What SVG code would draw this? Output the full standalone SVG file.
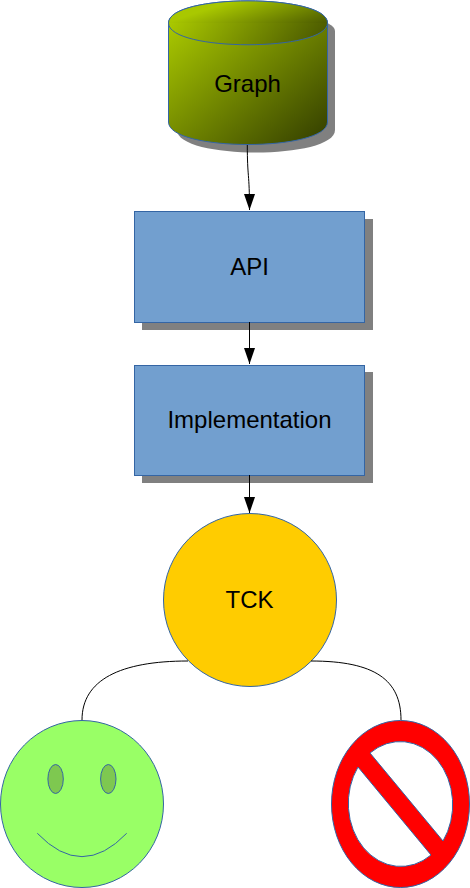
<svg xmlns="http://www.w3.org/2000/svg" width="470" height="888" viewBox="0 0 470 888">
<style>
.o{stroke:#3465a4;stroke-width:1}
.s{fill:#808080}
.b{fill:#729fcf}
.c{fill:none;stroke:#000;stroke-width:1}
.t{font-family:"Liberation Sans",Arial,sans-serif;font-size:24px;fill:#000;text-anchor:middle}
</style>
<defs>
<linearGradient id="g1" gradientUnits="userSpaceOnUse" x1="169" y1="25" x2="293" y2="167">
<stop offset="0" stop-color="#a9c800"/><stop offset="1" stop-color="#354000"/>
</linearGradient>
<linearGradient id="g2" gradientUnits="userSpaceOnUse" x1="169" y1="22" x2="189" y2="82">
<stop offset="0" stop-color="#a9c800"/><stop offset="1" stop-color="#354000"/>
</linearGradient>
<linearGradient id="g3" gradientUnits="userSpaceOnUse" x1="169" y1="25" x2="291" y2="123">
<stop offset="0" stop-color="#a9c800"/><stop offset="1" stop-color="#354000"/>
</linearGradient>
<marker id="a" markerUnits="userSpaceOnUse" markerWidth="16" markerHeight="11" refX="16" refY="5.500" orient="auto" viewBox="0 0 16 11">
<path d="M0 0L16 5.500L0 11Z" fill="#000"/>
</marker>
</defs>
<g id="graph">
<path class="s" d="M177 31C177 8 335 8 335 31V130C335 160 177 160 177 130Z"/>
<path d="M168.500 23C168.500 -6.500 327.500 -6.500 327.500 23V122C327.500 152 168.500 152 168.500 122Z" fill="url(#g1)" class="o"/>
<path d="M168.500 23C168.500 -6.500 327.500 -6.500 327.500 23Z" fill="url(#g2)"/>
<path d="M168.500 23C168.500 52 327.500 52 327.500 23Z" fill="url(#g3)"/>
<path d="M168.500 23C168.500 -6.500 327.500 -6.500 327.500 23C327.500 52 168.500 52 168.500 23Z" fill="none" class="o"/>
<text class="t" x="247.500" y="91.500">Graph</text>
</g>
<g id="api">
<rect class="s" x="142" y="219" width="231" height="111"/>
<rect class="b o" x="134.500" y="211.500" width="230" height="111"/>
<text class="t" x="249.500" y="275">API</text>
</g>
<g id="implementation">
<rect class="s" x="142" y="372" width="231" height="111"/>
<rect class="b o" x="134.500" y="365.500" width="230" height="110"/>
<text class="t" x="249.500" y="427.500">Implementation</text>
</g>
<g id="tck">
<circle cx="250" cy="600" r="86.500" fill="#ffcc00" class="o"/>
<text class="t" x="249.500" y="607.500">TCK</text>
</g>
<g id="smile">
<ellipse cx="82" cy="804" rx="81.500" ry="83.500" fill="#99ff66" class="o"/>
<ellipse cx="55.600" cy="779" rx="7.700" ry="14.500" fill="#7ec850" class="o"/>
<ellipse cx="108.300" cy="779" rx="7.700" ry="14.500" fill="#7ec850" class="o"/>
<path d="M37.300 833.300Q82 880 126.700 833.300" fill="none" class="o"/>
</g>
<g id="forbidden">
<path fill-rule="evenodd" fill="#ff0000" class="o" d="M331.500 804a69 83.500 0 1 0 138 0a69 83.500 0 1 0 -138 0ZM370 753A52.500 63 0 0 1 443 841ZM431 855A52.500 63 0 0 1 358 767Z"/>
</g>
<g id="connectors">
<path class="c" d="M247.300 145C247.300 178 249.500 172 249.500 210" marker-end="url(#a)"/>
<path class="c" d="M249.500 322V364" marker-end="url(#a)"/>
<path class="c" d="M249.500 475V513" marker-end="url(#a)"/>
<path class="c" d="M82 720C82 680 120 661 188 661"/>
<path class="c" d="M401 720C401 680 375 661 311 661"/>
</g>
</svg>
